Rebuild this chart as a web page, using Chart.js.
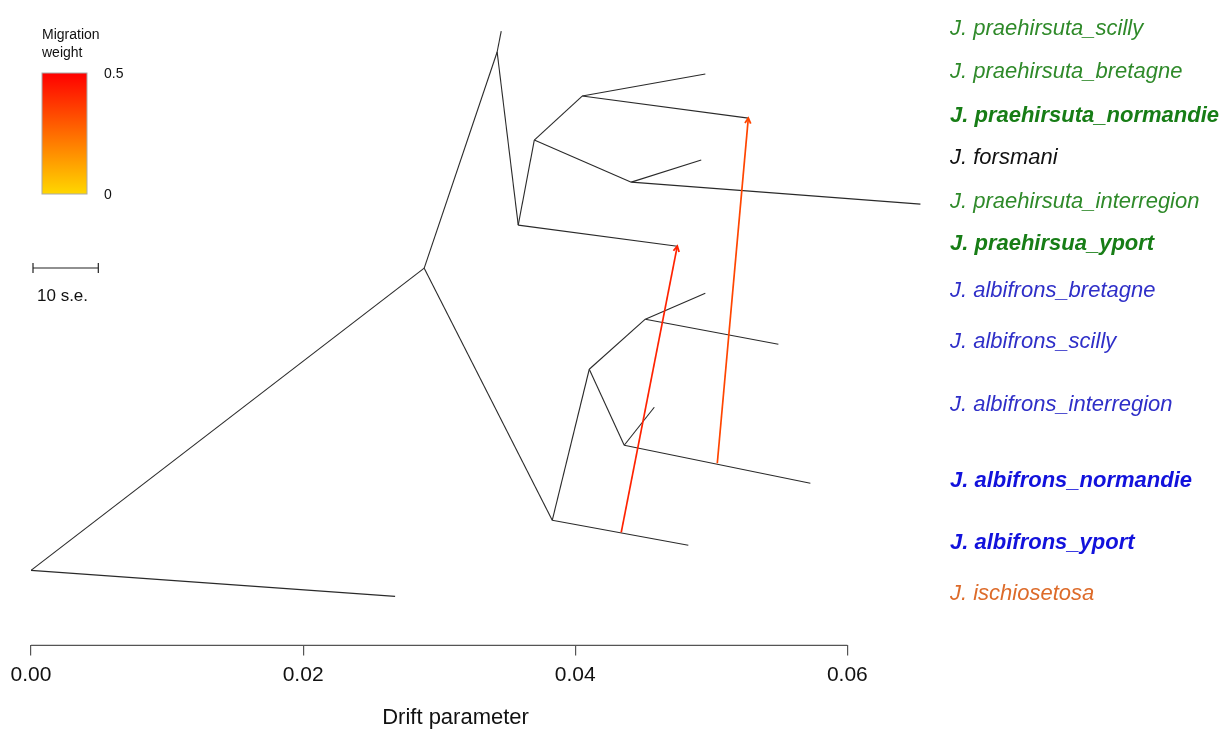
<!DOCTYPE html>
<html>
<head>
<meta charset="utf-8">
<script src="https://cdn.jsdelivr.net/npm/chart.js@4.4.0/dist/chart.umd.min.js"></script>
<style>
html, body { margin: 0; padding: 0; background: #fff; }
#wrap { width: 1231px; height: 729px; position: relative; }
</style>
</head>
<body>
<div id="wrap"><canvas id="treeChart"></canvas></div>
<script>
// Tree nodes: drift parameter (x) and vertical position (y, arbitrary 0-100 units)
const nodeX = [0.0, 0.02676, 0.0289, 0.03426, 0.03456, 0.03581, 0.0475, 0.03699, 0.04051, 0.04956, 0.05272,
               0.04412, 0.04926, 0.06537, 0.03831, 0.04831, 0.04103, 0.04515, 0.04956, 0.05493, 0.0436, 0.04581, 0.05728];
const nodeY = [11.81, 7.72, 59.37, 93.39, 96.69, 66.14, 62.83, 79.53, 86.46, 89.92, 82.99,
               72.91, 76.38, 69.45, 19.69, 15.75, 43.46, 51.34, 55.43, 47.40, 31.50, 37.48, 25.51];

// Edges (parent -> child node index)
const edgeParent = [0, 0, 2, 3, 3, 5, 5, 7, 8, 8, 7, 11, 11, 2, 14, 14, 16, 17, 17, 16, 20, 20];
const edgeChild  = [1, 2, 3, 4, 5, 6, 7, 8, 9, 10, 11, 12, 13, 14, 15, 16, 17, 18, 19, 20, 21, 22];

// Leaf labels (top to bottom)
const leafNodes  = [4, 9, 10, 12, 13, 6, 18, 19, 21, 22, 15, 1];
const leafLabels = ['J. praehirsuta_scilly', 'J. praehirsuta_bretagne', 'J. praehirsuta_normandie', 'J. forsmani',
                    'J. praehirsuta_interregion', 'J. praehirsua_yport', 'J. albifrons_bretagne', 'J. albifrons_scilly',
                    'J. albifrons_interregion', 'J. albifrons_normandie', 'J. albifrons_yport', 'J. ischiosetosa'];
const leafColors = ['#2f8a2a', '#2f8a2a', '#177d16', '#111111', '#2f8a2a', '#177d16',
                    '#2f2fc8', '#2f2fc8', '#2f2fc8', '#1212dc', '#1212dc', '#dd6b2a'];
const leafBold   = [false, false, true, false, false, true, false, false, false, true, true, false];

// Migration edges: source point on a branch, target leaf, weight
const migFromX  = [0.04338, 0.05044];
const migFromY  = [17.80, 28.66];
const migToNode = [6, 10];
const migWeight = [0.42, 0.34];

// Axis ticks and scale bar
const xTicks = [0, 0.02, 0.04, 0.06];
const seBar = 0.0048;   // length of "10 s.e." bar in drift units

const FONT = '"Liberation Sans", Arial, Helvetica, sans-serif';

// yellow (0) -> red (0.5)
function weightColor(w) {
    const t = Math.min(1, w / 0.5);
    const g = Math.round(215 * (1 - t));
    return 'rgb(255,' + g + ',0)';
}

const datasets = [];
// migrations first so they sit on top of the tree lines
migFromX.forEach((mx, i) => {
    datasets.push({
        data: [{x: mx, y: migFromY[i]}, {x: nodeX[migToNode[i]], y: nodeY[migToNode[i]]}],
        borderColor: weightColor(migWeight[i]),
        borderWidth: 1.7,
        showLine: true,
        pointRadius: 0,
        migration: true
    });
});
edgeParent.forEach((p, i) => {
    const c = edgeChild[i];
    datasets.push({
        data: [{x: nodeX[p], y: nodeY[p]}, {x: nodeX[c], y: nodeY[c]}],
        borderColor: '#2a2a2a',
        borderWidth: 1.1,
        showLine: true,
        pointRadius: 0
    });
});

// Extra drawing: axis line, leaf labels, arrowheads, legend, scale bar
const treeDecor = {
    id: 'treeDecor',
    afterDraw(chart) {
        const c = chart.ctx;
        const xs = chart.scales.x, ys = chart.scales.y;
        const area = chart.chartArea;
        c.save();

        // x axis line from first to last tick
        c.strokeStyle = '#555';
        c.lineWidth = 1.2;
        c.beginPath();
        c.moveTo(xs.getPixelForValue(xTicks[0]), area.bottom);
        c.lineTo(xs.getPixelForValue(xTicks[xTicks.length - 1]), area.bottom);
        c.stroke();

        // arrowheads on migration edges
        chart.data.datasets.forEach(ds => {
            if (!ds.migration) return;
            const x0 = xs.getPixelForValue(ds.data[0].x), y0 = ys.getPixelForValue(ds.data[0].y);
            const x1 = xs.getPixelForValue(ds.data[1].x), y1 = ys.getPixelForValue(ds.data[1].y);
            const ang = Math.atan2(y1 - y0, x1 - x0);
            const len = 6;
            c.strokeStyle = ds.borderColor;
            c.lineWidth = 1.8;
            c.beginPath();
            c.moveTo(x1 - len * Math.cos(ang - 0.5), y1 - len * Math.sin(ang - 0.5));
            c.lineTo(x1, y1);
            c.lineTo(x1 - len * Math.cos(ang + 0.5), y1 - len * Math.sin(ang + 0.5));
            c.stroke();
        });

        // leaf labels
        c.textBaseline = 'middle';
        c.textAlign = 'left';
        leafNodes.forEach((n, i) => {
            c.font = 'italic ' + (leafBold[i] ? 'bold ' : '') + '22px ' + FONT;
            c.fillStyle = leafColors[i];
            c.fillText(leafLabels[i], area.right + 21, ys.getPixelForValue(nodeY[n]) - 2);
        });

        // migration weight legend
        c.fillStyle = '#111';
        c.font = '14px ' + FONT;
        c.fillText('Migration', 42, 35);
        c.fillText('weight', 42, 53);
        const grad = c.createLinearGradient(0, 73, 0, 194);
        grad.addColorStop(0, weightColor(0.5));
        grad.addColorStop(0.5, weightColor(0.25));
        grad.addColorStop(1, weightColor(0));
        c.fillStyle = grad;
        c.fillRect(42, 73, 45, 121);
        c.strokeStyle = '#aaa';
        c.lineWidth = 1;
        c.strokeRect(42, 73, 45, 121);
        c.fillStyle = '#111';
        c.font = '14px ' + FONT;
        c.fillText('0.5', 104, 74);
        c.fillText('0', 104, 195);

        // scale bar
        const sx0 = xs.getPixelForValue(0) + 2, sx1 = xs.getPixelForValue(seBar) + 2;
        c.strokeStyle = '#222';
        c.lineWidth = 1.2;
        c.beginPath();
        c.moveTo(sx0, 268); c.lineTo(sx1, 268);
        c.moveTo(sx0, 263); c.lineTo(sx0, 273);
        c.moveTo(sx1, 263); c.lineTo(sx1, 273);
        c.stroke();
        c.font = '17px ' + FONT;
        c.fillText('10 s.e.', 37, 296);

        c.restore();
    }
};

const treeChart = new Chart(document.getElementById('treeChart'), {
    type: 'scatter',
    data: { datasets: datasets },
    options: {
        responsive: true,
        maintainAspectRatio: false,
        animation: false,
        layout: { padding: { left: 31, right: 302, top: 10, bottom: 0 } },
        plugins: { legend: { display: false }, tooltip: { enabled: false } },
        scales: {
            x: {
                type: 'linear',
                min: 0,
                max: 0.066,
                afterBuildTicks: axis => { axis.ticks = xTicks.map(v => ({value: v})); },
                ticks: {
                    includeBounds: false,
                    autoSkip: false,
                    maxRotation: 0,
                    padding: 7,
                    color: '#111',
                    font: { family: FONT, size: 21 },
                    callback: v => Number(v).toFixed(2)
                },
                grid: { drawOnChartArea: false, drawTicks: true, tickLength: 10, color: '#555', lineWidth: 1.2 },
                border: { display: false },
                title: {
                    display: true,
                    // trailing spaces nudge the centred title left, as in the original
                    text: 'Drift parameter        ',
                    color: '#111',
                    font: { family: FONT, size: 22 },
                    padding: { top: 10, bottom: -2 }
                }
            },
            y: {
                type: 'linear',
                display: false,
                min: 0,
                max: 100
            }
        }
    },
    plugins: [treeDecor]
});
</script>
</body>
</html>
